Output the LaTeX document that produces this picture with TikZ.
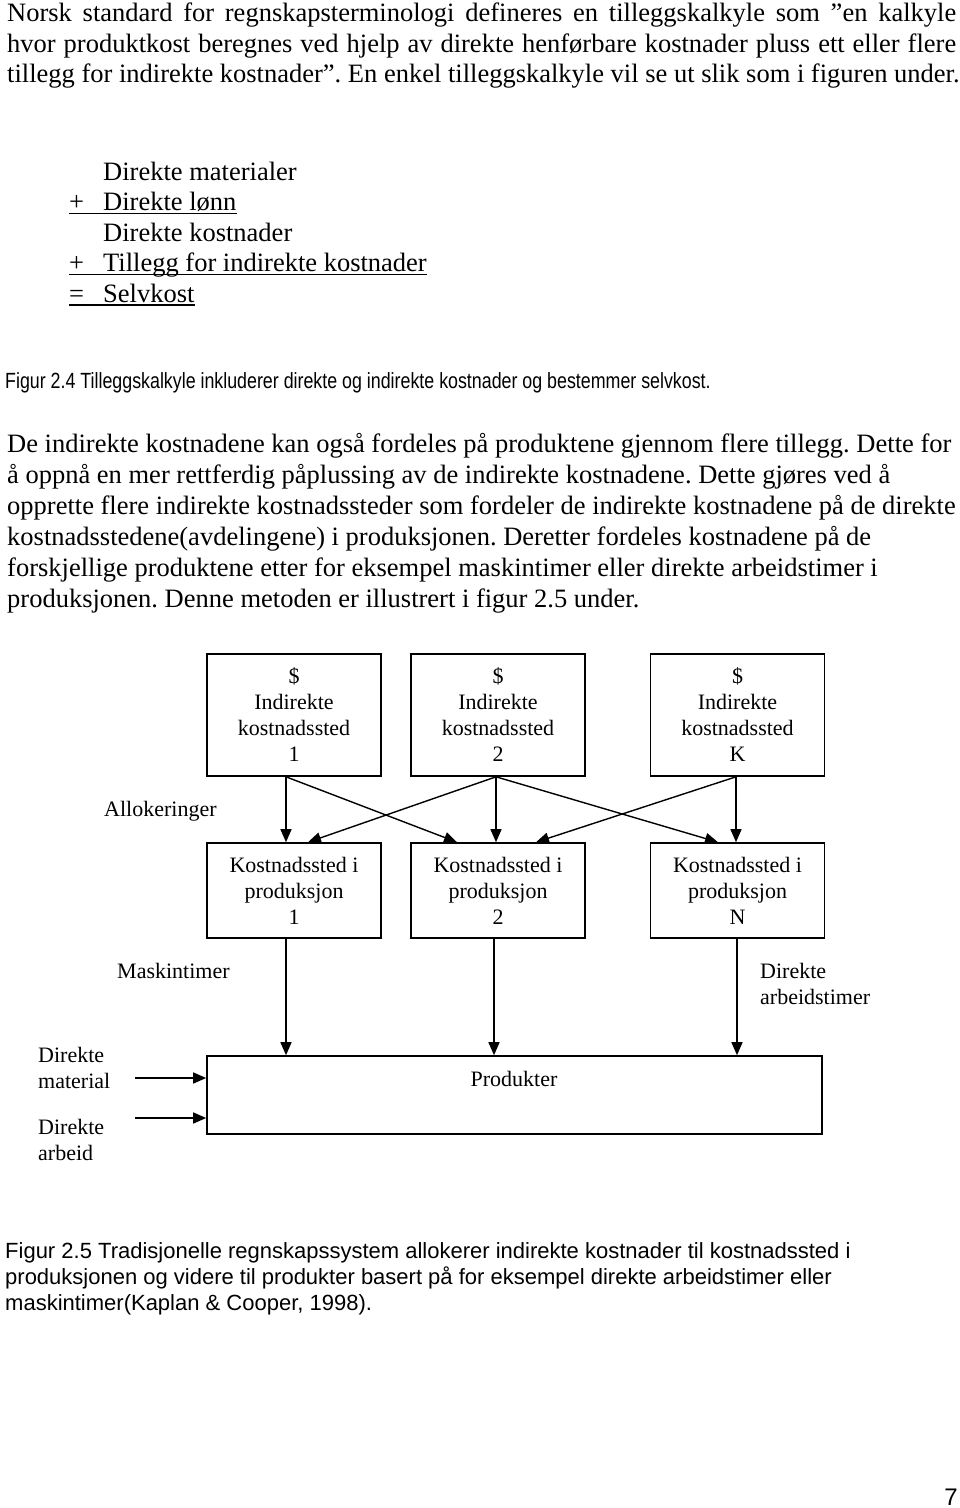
\documentclass[tikz,border=0pt]{standalone}
\usepackage{fontspec}
\setmainfont{Liberation Serif}
\newfontfamily\capsans[FakeStretch=0.81]{Liberation Sans}
\newfontfamily\numsans{Liberation Sans}
\usepackage{tikz}
\usetikzlibrary{positioning, calc, arrows.meta}
\frenchspacing

\newcommand{\txtfnt}{\fontsize{26.5}{31}\selectfont}
\newcommand{\boxfnt}{\fontsize{22}{26}\selectfont}
\newcommand{\capfnt}{\capsans\fontsize{22}{26}\selectfont}
\newcommand{\capfntb}{\numsans\fontsize{22}{26}\selectfont}

\tikzset{
	txt/.style={anchor=base west, inner sep=0pt, font=\txtfnt},
	figcap/.style={anchor=base west, inner sep=0pt, font=\capfnt},
	figcapb/.style={anchor=base west, inner sep=0pt, font=\capfntb},
	lbl/.style={inner sep=0pt, align=left, font=\boxfnt},
	kbox/.style={draw, line width=1.6pt, minimum width=174pt, inner sep=0pt, align=center, font=\boxfnt},
	arr/.style={-{Triangle[length=13pt,width=11pt]}, line width=1.4pt}
}

\begin{document}
\begin{tikzpicture}[x=1pt, y=-1pt]
	\useasboundingbox (0,0) rectangle (960,1508);
	\pgfmathsetmacro{\jw}{949}
	
	% paragraph 1
	\node[txt] (a1) at (7,21.5) {\makebox[\jw pt][s]{Norsk standard for regnskapsterminologi defineres en tilleggskalkyle som ”en kalkyle}};
	\node[txt] (a2) at (7,52) {\makebox[\jw pt][s]{hvor produktkost beregnes ved hjelp av direkte henførbare kostnader pluss ett eller flere}};
	\node[txt] (a3) at (7,82.5) {tillegg for indirekte kostnader”. En enkel tilleggskalkyle vil se ut slik som i figuren under.};
	
	% figur 2.4
	\node[txt] (dm) at (103,180) {Direkte materialer};
	\node[txt] (pl1) at (69,210.5) {+};
	\node[txt] (dl) at (103,210.5) {Direkte lønn};
	\node[txt] (dk) at (103,241) {Direkte kostnader};
	\node[txt] (pl2) at (69,271.5) {+};
	\node[txt] (ti) at (103,271.5) {Tillegg for indirekte kostnader};
	\node[txt] (eq) at (69,302) {=};
	\node[txt] (sk) at (103,302) {Selvkost};
	\draw[line width=1.5pt] ([yshift=-3pt]pl1.base west) -- ([yshift=-3pt]dl.base east);
	\draw[line width=1.5pt] ([yshift=-3pt]pl2.base west) -- ([yshift=-3pt]ti.base east);
	\draw[line width=1.5pt] ([yshift=-3pt]eq.base west) -- ([yshift=-3pt]sk.base east);
	
	\node[figcap] (c24) at (5,388) {Figur 2.4 Tilleggskalkyle inkluderer direkte og indirekte kostnader og bestemmer selvkost.};
	
	% paragraph 2
	\node[txt] (b1) at (7,452) {De indirekte kostnadene kan også fordeles på produktene gjennom flere tillegg. Dette for};
	\node[txt] (b2) at (7,483) {å oppnå en mer rettferdig påplussing av de indirekte kostnadene. Dette gjøres ved å};
	\node[txt] (b3) at (7,514) {opprette flere indirekte kostnadssteder som fordeler de indirekte kostnadene på de direkte};
	\node[txt] (b4) at (7,545) {kostnadsstedene(avdelingene) i produksjonen. Deretter fordeles kostnadene på de};
	\node[txt] (b5) at (7,576) {forskjellige produktene etter for eksempel maskintimer eller direkte arbeidstimer i};
	\node[txt] (b6) at (7,607) {produksjonen. Denne metoden er illustrert i figur 2.5 under.};
	
	% figur 2.5
	\node[kbox, minimum height=122pt] (ind1) at (294,715) {\$\\Indirekte\\kostnadssted\\1};
	\node[kbox, minimum height=122pt] (ind2) at (498,715) {\$\\Indirekte\\kostnadssted\\2};
	\node[kbox, minimum height=122pt] (indK) at (737.5,715) {\$\\Indirekte\\kostnadssted\\K};
	
	\node[kbox, minimum height=95pt] (kp1) at (294,890.5) {Kostnadssted i\\produksjon\\1};
	\node[kbox, minimum height=95pt] (kp2) at (498,890.5) {Kostnadssted i\\produksjon\\2};
	\node[kbox, minimum height=95pt] (kpN) at (737.5,890.5) {Kostnadssted i\\produksjon\\N};
	
	\node[kbox, minimum width=615pt, minimum height=78pt] (prod) at (514.5,1095) {};
	\node[anchor=base, inner sep=0pt, font=\boxfnt] (prodtxt) at (514,1086) {Produkter};
	
	\draw[arr] ([xshift=-8pt]ind1.south) -- ([xshift=-8pt]kp1.north);
	\draw[arr] ([xshift=-8pt]ind1.south) -- ([xshift=-41pt]kp2.north);
	\draw[arr] ([xshift=-2pt]ind2.south) -- ([xshift=14pt]kp1.north);
	\draw[arr] ([xshift=-2pt]ind2.south) -- ([xshift=-2pt]kp2.north);
	\draw[arr] ([xshift=-2pt]ind2.south) -- ([xshift=-19.5pt]kpN.north);
	\draw[arr] ([xshift=-1.5pt]indK.south) -- ([xshift=38pt]kp2.north);
	\draw[arr] ([xshift=-1.5pt]indK.south) -- ([xshift=-1.5pt]kpN.north);
	
	\draw[arr] ([xshift=-8pt]kp1.south) -- ([xshift=-8pt]kp1.south |- prod.north);
	\draw[arr] ([xshift=-4pt]kp2.south) -- ([xshift=-4pt]kp2.south |- prod.north);
	\draw[arr] ([xshift=-0.5pt]kpN.south) -- ([xshift=-0.5pt]kpN.south |- prod.north);
	
	\coordinate (mat) at (135,1078);
	\coordinate (arb) at (135,1118);
	\draw[arr] (mat) -- (mat -| prod.west);
	\draw[arr] (arb) -- (arb -| prod.west);
	
	\node[lbl, anchor=base west] (allok) at (104,816) {Allokeringer};
	\node[lbl, anchor=base west] (mask) at (117,978) {Maskintimer};
	\node[lbl, anchor=north west] (dat) at (760,963) {Direkte\\arbeidstimer};
	\node[lbl, anchor=north west] (dmat) at (38,1047) {Direkte\\material};
	\node[lbl, anchor=north west] (darb) at (38,1119) {Direkte\\arbeid};
	
	\node[figcapb] (c25a) at (5,1258) {Figur 2.5 Tradisjonelle regnskapssystem allokerer indirekte kostnader til kostnadssted i};
	\node[figcapb] (c25b) at (5,1284) {produksjonen og videre til produkter basert på for eksempel direkte arbeidstimer eller};
	\node[figcapb] (c25c) at (5,1310) {maskintimer(Kaplan \& Cooper, 1998).};
	
	\node[anchor=base east, inner sep=0pt, font=\numsans\fontsize{24}{28}\selectfont] (pg) at (958,1505) {7};
\end{tikzpicture}
\end{document}
